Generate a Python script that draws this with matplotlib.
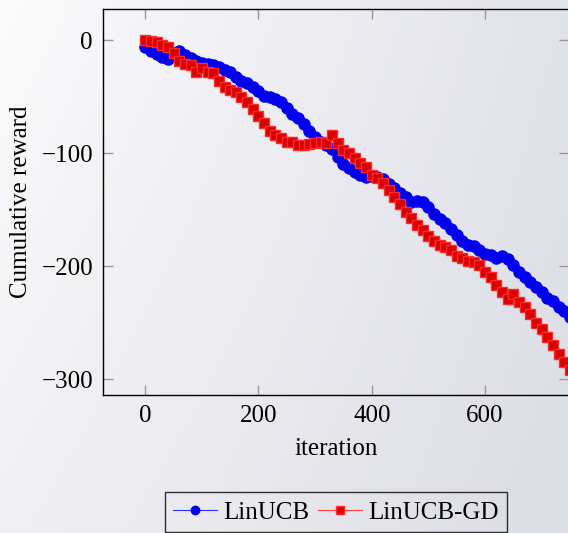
import numpy as np
import matplotlib
matplotlib.use('Agg')
import matplotlib.pyplot as plt

plt.rcParams['font.family'] = ['Liberation Serif', 'DejaVu Serif']
plt.rcParams['font.size'] = 18

# readings every 10 iterations (0..760)
iters = np.arange(0, 770, 10)
linucb = [-6, -10, -12, -15, -17, -11, -10, -13, -16, -18,
          -20, -21, -22, -24, -26, -28, -33, -36, -38, -41,
          -45, -49, -50, -52, -55, -60, -65, -69, -74, -80,
          -86, -90, -93, -96, -103, -110, -113, -117, -119, -121,
          -120, -121, -123, -127, -131, -135, -139, -143, -142, -143,
          -148, -154, -158, -162, -167, -172, -178, -181, -182, -186,
          -189, -190, -193, -191, -194, -199, -205, -210, -214, -218,
          -223, -228, -231, -236, -240, -245, -248]
linucb_gd = [0, -1, -2, -4, -6, -11, -18, -21, -22, -28,
             -25, -28, -29, -36, -41, -44, -46, -50, -55, -61,
             -67, -73, -80, -84, -87, -90, -90, -93, -93, -92,
             -91, -90, -91, -84, -91, -97, -100, -104, -109, -112,
             -119, -122, -126, -133, -139, -145, -152, -157, -164, -168,
             -173, -178, -181, -183, -186, -191, -193, -195, -196, -199,
             -205, -210, -217, -223, -229, -225, -232, -236, -242, -250,
             -256, -263, -270, -278, -285, -292, -298]
xticks = [0, 200, 400, 600]
yticks = [0, -100, -200, -300]

fig = plt.figure(figsize=(5.68, 5.33), dpi=100)

# soft grey background of the screenshot
bg = fig.add_axes([0, 0, 1, 1], zorder=-10)
corners = np.array([[[0.984, 0.984, 0.988], [0.886, 0.890, 0.918]],
                    [[0.941, 0.941, 0.953], [0.863, 0.867, 0.898]]])
u = np.linspace(0, 1, 200)
U, V = np.meshgrid(u, u)
img = ((1-U)*(1-V))[..., None]*corners[0, 0] + (U*(1-V))[..., None]*corners[0, 1] \
    + ((1-U)*V)[..., None]*corners[1, 0] + (U*V)[..., None]*corners[1, 1]
bg.imshow(img, aspect='auto', extent=[0, 1, 0, 1], origin='upper')
bg.axis('off')

ax = fig.add_axes([0.1808, 0.2589, 0.8209, 0.7251])
ax.set_facecolor('none')

ax.plot(iters, linucb, color='#3030ff', lw=0.8, marker='o', ms=8,
        mfc='#0000ee', mec='#0000ee', label='LinUCB')
ax.plot(iters, linucb_gd, color='#ff4040', lw=0.8, marker='s', ms=7.5,
        mfc='#d80000', mec='#ff2a2a', mew=1, label='LinUCB-GD')

ax.set_xlim(-75, 748)
ax.set_ylim(-314, 28)
ax.set_xticks(xticks)
ax.set_yticks(yticks)
ax.tick_params(direction='in', length=7, width=1, color='#999999',
               top=True, right=True, pad=7)
for s in ax.spines.values():
    s.set_linewidth(1)
    s.set_color('black')

ax.set_xlabel('iteration')
ax.set_ylabel('Cumulative reward')
ax.xaxis.set_label_coords(0.5, -0.112)
ax.yaxis.set_label_coords(-0.152, 0.5)

leg = fig.legend(loc='upper center', bbox_to_anchor=(0.5915, 0.076), ncol=2,
                 frameon=True, fancybox=False, edgecolor='black',
                 facecolor='none', handlelength=1.75, handletextpad=0.25,
                 columnspacing=0.35, borderpad=0.35, borderaxespad=0,
                 markerscale=0.75)
leg.get_frame().set_linewidth(1)

fig.savefig('out.png', dpi=100)
